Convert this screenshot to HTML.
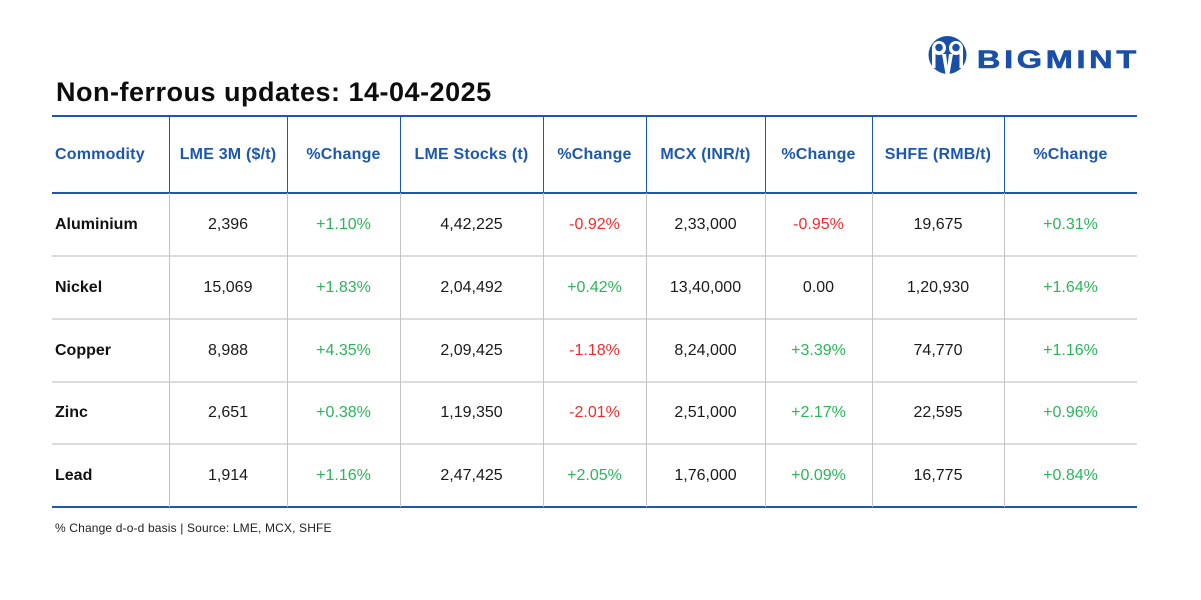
<!DOCTYPE html>
<html>
<head>
<meta charset="utf-8">
<style>
html,body{margin:0;padding:0;background:#fff;}
body{width:1201px;height:600px;position:relative;overflow:hidden;font-family:"Liberation Sans",Arial,sans-serif;}
.a{position:absolute;}
.t{position:absolute;text-align:center;white-space:nowrap;}
.h{color:#1d58b0;font-weight:bold;font-size:16px;letter-spacing:0.2px;}
.d{color:#1a1a1a;font-size:16px;}
.n{font-weight:bold;color:#111;text-align:left;}
.g{color:#2bb65a;}
.r{color:#f42b2b;}
.hl{position:absolute;left:52px;width:1085px;}
.vb{position:absolute;top:116px;height:77px;width:1px;background:#1d58b0;}
.vg{position:absolute;top:193px;height:314px;width:1px;background:#c4c4c4;}
</style>
</head>
<body>
<!-- Logo -->
<svg class="a" style="left:0;top:0" width="1201" height="100">
  <circle cx="947.5" cy="55" r="19" fill="#1a4fa8"/>
  <circle cx="939" cy="48" r="7" fill="#fff"/>
  <circle cx="956" cy="48" r="7" fill="#fff"/>
  <circle cx="939" cy="47.5" r="3.8" fill="#1a4fa8"/>
  <circle cx="956" cy="47.5" r="3.8" fill="#1a4fa8"/>
  <rect x="932" y="48" width="3.5" height="20" fill="#fff"/>
  <rect x="959.5" y="48" width="3.5" height="20" fill="#fff"/>
  <polygon points="942,54 946,54 947.5,66 949,54 953,54 949.5,74 945.5,74" fill="#fff"/>
  <g transform="scale(1.3,1)">
    <text x="751.5" y="68" font-family="Liberation Sans, Arial, sans-serif" font-weight="bold" font-size="25" fill="#1a4fa8" stroke="#1a4fa8" stroke-width="0.6" textLength="122.5" lengthAdjust="spacing">BIGMINT</text>
  </g>
</svg>

<!-- Title -->
<div class="a" style="left:56px;top:75px;font-size:27px;font-weight:bold;color:#0d0d0d;letter-spacing:0.5px;line-height:34px;white-space:nowrap;">Non-ferrous updates: 14-04-2025</div>

<!-- Horizontal lines -->
<div class="hl" style="top:115px;height:2px;background:#1d58b0;"></div>
<div class="hl" style="top:192px;height:2px;background:#1d58b0;"></div>
<div class="hl" style="top:255px;height:2px;background:#dcdcdc;"></div>
<div class="hl" style="top:318px;height:2px;background:#dcdcdc;"></div>
<div class="hl" style="top:381px;height:2px;background:#dcdcdc;"></div>
<div class="hl" style="top:443px;height:2px;background:#dcdcdc;"></div>
<div class="hl" style="top:506px;height:2px;background:#1d58b0;"></div>

<!-- Vertical lines header (blue) -->
<div class="vb" style="left:169px"></div>
<div class="vb" style="left:287px"></div>
<div class="vb" style="left:400px"></div>
<div class="vb" style="left:543px"></div>
<div class="vb" style="left:646px"></div>
<div class="vb" style="left:765px"></div>
<div class="vb" style="left:872px"></div>
<div class="vb" style="left:1004px"></div>
<!-- Vertical lines data (grey) -->
<div class="vg" style="left:169px"></div>
<div class="vg" style="left:287px"></div>
<div class="vg" style="left:400px"></div>
<div class="vg" style="left:543px"></div>
<div class="vg" style="left:646px"></div>
<div class="vg" style="left:765px"></div>
<div class="vg" style="left:872px"></div>
<div class="vg" style="left:1004px"></div>

<!-- Header -->
<div class="t h" style="left:55px;width:110px;top:117px;line-height:75px;text-align:left;">Commodity</div>
<div class="t h" style="left:169px;width:118px;top:117px;line-height:75px;">LME 3M ($/t)</div>
<div class="t h" style="left:287px;width:113px;top:117px;line-height:75px;">%Change</div>
<div class="t h" style="left:400px;width:143px;top:117px;line-height:75px;">LME Stocks (t)</div>
<div class="t h" style="left:543px;width:103px;top:117px;line-height:75px;">%Change</div>
<div class="t h" style="left:646px;width:119px;top:117px;line-height:75px;">MCX (INR/t)</div>
<div class="t h" style="left:765px;width:107px;top:117px;line-height:75px;">%Change</div>
<div class="t h" style="left:872px;width:132px;top:117px;line-height:75px;">SHFE (RMB/t)</div>
<div class="t h" style="left:1004px;width:133px;top:117px;line-height:75px;">%Change</div>

<!-- Row 1 -->
<div class="t d n" style="left:55px;width:110px;top:194px;line-height:61px;">Aluminium</div>
<div class="t d" style="left:169px;width:118px;top:194px;line-height:61px;">2,396</div>
<div class="t d g" style="left:287px;width:113px;top:194px;line-height:61px;">+1.10%</div>
<div class="t d" style="left:400px;width:143px;top:194px;line-height:61px;">4,42,225</div>
<div class="t d r" style="left:543px;width:103px;top:194px;line-height:61px;">-0.92%</div>
<div class="t d" style="left:646px;width:119px;top:194px;line-height:61px;">2,33,000</div>
<div class="t d r" style="left:765px;width:107px;top:194px;line-height:61px;">-0.95%</div>
<div class="t d" style="left:872px;width:132px;top:194px;line-height:61px;">19,675</div>
<div class="t d g" style="left:1004px;width:133px;top:194px;line-height:61px;">+0.31%</div>

<!-- Row 2 -->
<div class="t d n" style="left:55px;width:110px;top:257px;line-height:61px;">Nickel</div>
<div class="t d" style="left:169px;width:118px;top:257px;line-height:61px;">15,069</div>
<div class="t d g" style="left:287px;width:113px;top:257px;line-height:61px;">+1.83%</div>
<div class="t d" style="left:400px;width:143px;top:257px;line-height:61px;">2,04,492</div>
<div class="t d g" style="left:543px;width:103px;top:257px;line-height:61px;">+0.42%</div>
<div class="t d" style="left:646px;width:119px;top:257px;line-height:61px;">13,40,000</div>
<div class="t d" style="left:765px;width:107px;top:257px;line-height:61px;">0.00</div>
<div class="t d" style="left:872px;width:132px;top:257px;line-height:61px;">1,20,930</div>
<div class="t d g" style="left:1004px;width:133px;top:257px;line-height:61px;">+1.64%</div>

<!-- Row 3 -->
<div class="t d n" style="left:55px;width:110px;top:320px;line-height:61px;">Copper</div>
<div class="t d" style="left:169px;width:118px;top:320px;line-height:61px;">8,988</div>
<div class="t d g" style="left:287px;width:113px;top:320px;line-height:61px;">+4.35%</div>
<div class="t d" style="left:400px;width:143px;top:320px;line-height:61px;">2,09,425</div>
<div class="t d r" style="left:543px;width:103px;top:320px;line-height:61px;">-1.18%</div>
<div class="t d" style="left:646px;width:119px;top:320px;line-height:61px;">8,24,000</div>
<div class="t d g" style="left:765px;width:107px;top:320px;line-height:61px;">+3.39%</div>
<div class="t d" style="left:872px;width:132px;top:320px;line-height:61px;">74,770</div>
<div class="t d g" style="left:1004px;width:133px;top:320px;line-height:61px;">+1.16%</div>

<!-- Row 4 -->
<div class="t d n" style="left:55px;width:110px;top:383px;line-height:60px;">Zinc</div>
<div class="t d" style="left:169px;width:118px;top:383px;line-height:60px;">2,651</div>
<div class="t d g" style="left:287px;width:113px;top:383px;line-height:60px;">+0.38%</div>
<div class="t d" style="left:400px;width:143px;top:383px;line-height:60px;">1,19,350</div>
<div class="t d r" style="left:543px;width:103px;top:383px;line-height:60px;">-2.01%</div>
<div class="t d" style="left:646px;width:119px;top:383px;line-height:60px;">2,51,000</div>
<div class="t d g" style="left:765px;width:107px;top:383px;line-height:60px;">+2.17%</div>
<div class="t d" style="left:872px;width:132px;top:383px;line-height:60px;">22,595</div>
<div class="t d g" style="left:1004px;width:133px;top:383px;line-height:60px;">+0.96%</div>

<!-- Row 5 -->
<div class="t d n" style="left:55px;width:110px;top:445px;line-height:61px;">Lead</div>
<div class="t d" style="left:169px;width:118px;top:445px;line-height:61px;">1,914</div>
<div class="t d g" style="left:287px;width:113px;top:445px;line-height:61px;">+1.16%</div>
<div class="t d" style="left:400px;width:143px;top:445px;line-height:61px;">2,47,425</div>
<div class="t d g" style="left:543px;width:103px;top:445px;line-height:61px;">+2.05%</div>
<div class="t d" style="left:646px;width:119px;top:445px;line-height:61px;">1,76,000</div>
<div class="t d g" style="left:765px;width:107px;top:445px;line-height:61px;">+0.09%</div>
<div class="t d" style="left:872px;width:132px;top:445px;line-height:61px;">16,775</div>
<div class="t d g" style="left:1004px;width:133px;top:445px;line-height:61px;">+0.84%</div>

<!-- Footnote -->
<div class="a" style="left:55px;top:520px;font-size:12px;line-height:16px;color:#222;letter-spacing:0.15px;white-space:nowrap;">% Change d-o-d basis | Source: LME, MCX, SHFE</div>
</body>
</html>
